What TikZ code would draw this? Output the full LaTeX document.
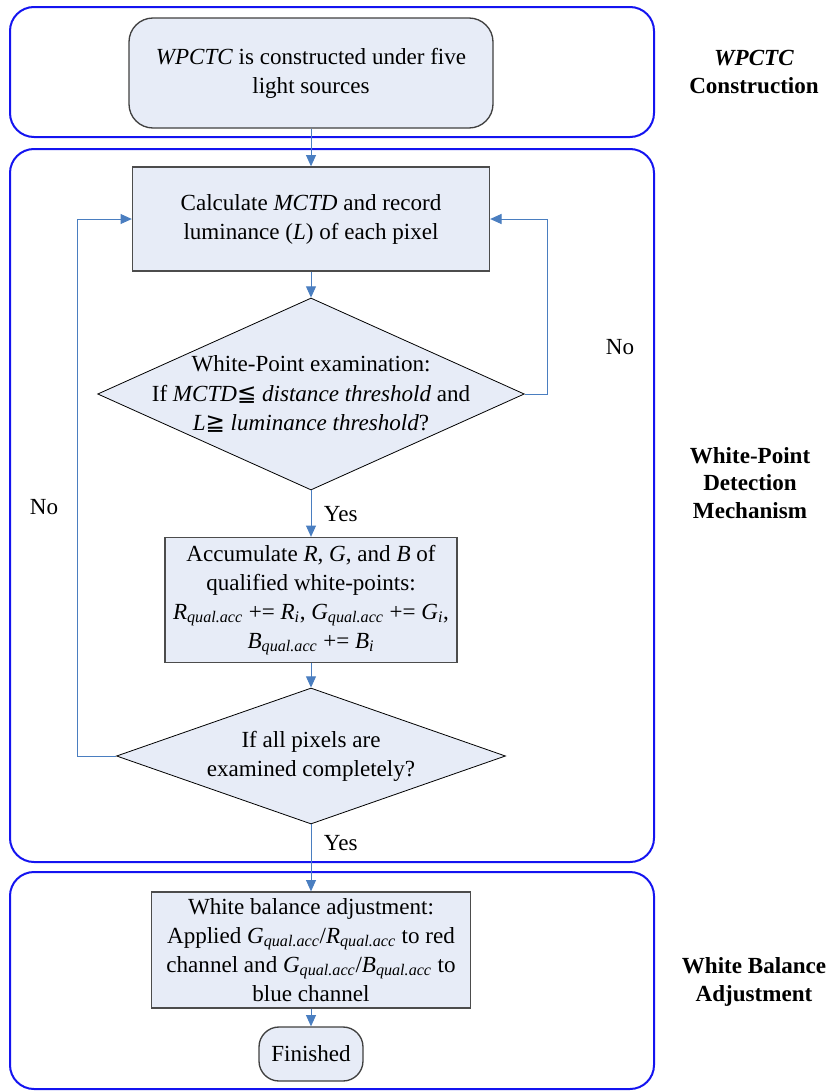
\documentclass[tikz,border=0pt]{standalone}
\usepackage{fontspec}
\setmainfont{Liberation Serif}
\newfontfamily\symbfont{DejaVu Sans}
\usepackage{tikz}
\usetikzlibrary{arrows.meta}
\usetikzlibrary{positioning}
\usetikzlibrary{shapes.geometric}
\definecolor{boxfill}{HTML}{E7ECF7}
\definecolor{flowline}{HTML}{4A7EC0}
\definecolor{groupline}{HTML}{1414F0}
\newcommand{\qacc}[1]{\textit{#1}\textsubscript{\textit{qual.acc}}}

\begin{document}
\begin{tikzpicture}[x=0.75pt,y=-0.75pt,
			every node/.style={font=\fontsize{17.3}{21.8}\selectfont},
			group box/.style={draw=groupline,line width=1.5pt,rounded corners=18pt},
			start node/.style={rectangle,rounded corners=18pt,draw=black!75,fill=boxfill,
				line width=1pt,align=center},
			main node/.style={rectangle,draw=black!70,fill=boxfill,line width=1pt,
				align=center,inner sep=2pt},
			check node/.style={diamond,draw=black,fill=boxfill,line width=0.6pt,align=center},
			side label/.style={align=center,font=\fontsize{17.3}{20.6}\selectfont\bfseries},
			flow/.style={draw=flowline,line width=0.75pt,-{Triangle[length=8.5pt,width=7.5pt]}}]
			
			\useasboundingbox (0,0) rectangle (829,1092);
			
			\draw[group box] (10,7) rectangle (654,137);
			\draw[group box] (10,149) rectangle (654,862);
			\draw[group box] (10,872) rectangle (654,1089);
			
			\node[start node,minimum width=273pt,minimum height=82.5pt] (wpctc) at (311,73)
				{\textit{WPCTC} is constructed under five\\light sources};
			\node[main node,minimum width=267.75pt,minimum height=78pt,
				node distance=109.5pt,below of=wpctc] (calc)
				{Calculate \textit{MCTD} and record\\luminance (\textit{L}) of each pixel};
			\node[check node,inner xsep=-80pt,inner ysep=-25pt,minimum width=320pt,
				minimum height=144pt,node distance=131.25pt,below of=calc] (wpcheck)
				{White-Point examination:\\If \textit{MCTD}{\symbfont ≦} \textit{distance threshold} and\\\textit{L}{\symbfont ≧} \textit{luminance threshold}?};
			\node[main node,minimum width=219pt,minimum height=93.75pt,
				node distance=154.5pt,below of=wpcheck] (accum)
				{Accumulate \textit{R}, \textit{G}, and \textit{B} of\\qualified white-points:\\\qacc{R} += \textit{R\textsubscript{i}}, \qacc{G} += \textit{G\textsubscript{i}},\\\qacc{B} += \textit{B\textsubscript{i}}};
			\node[check node,inner xsep=-60pt,inner ysep=-15pt,minimum width=291.75pt,
				minimum height=102pt,node distance=117pt,below of=accum] (allcheck)
				{If all pixels are\\examined completely?};
			\node[main node,minimum width=239.25pt,minimum height=87pt,
				node distance=145.5pt,below of=allcheck] (balance)
				{White balance adjustment:\\Applied \qacc{G}/\qacc{R} to red\\channel and \qacc{G}/\qacc{B} to\\blue channel};
			\node[start node,rounded corners=15pt,minimum width=78pt,minimum height=40.5pt,
				node distance=78pt,below of=balance] (finish) {Finished};
			
			\path[every edge/.style={flow}]
			(wpctc) edge (calc)
			(calc) edge (wpcheck)
			(wpcheck) edge node[right=6pt] (yes1) {Yes} (accum)
			(accum) edge (allcheck)
			(allcheck) edge node[right=6pt,pos=0.28] (yes2) {Yes} (balance)
			(balance) edge (finish);
			
			\draw[flow] (wpcheck.east) -- ++(23,0) |- (calc.east);
			\draw[flow] (allcheck.west) -- ++(-39,0) |- (calc.west);
			\node (no1) at (620,347) {No};
			\node (no2) at (44,507) {No};
			
			\node[side label] (sidea) at (754,72) {\textit{WPCTC}\\Construction};
			\node[side label] (sideb) at (750,483) {White-Point\\Detection\\Mechanism};
			\node[side label] (sidec) at (754,982) {White Balance\\Adjustment};
		\end{tikzpicture}
\end{document}
